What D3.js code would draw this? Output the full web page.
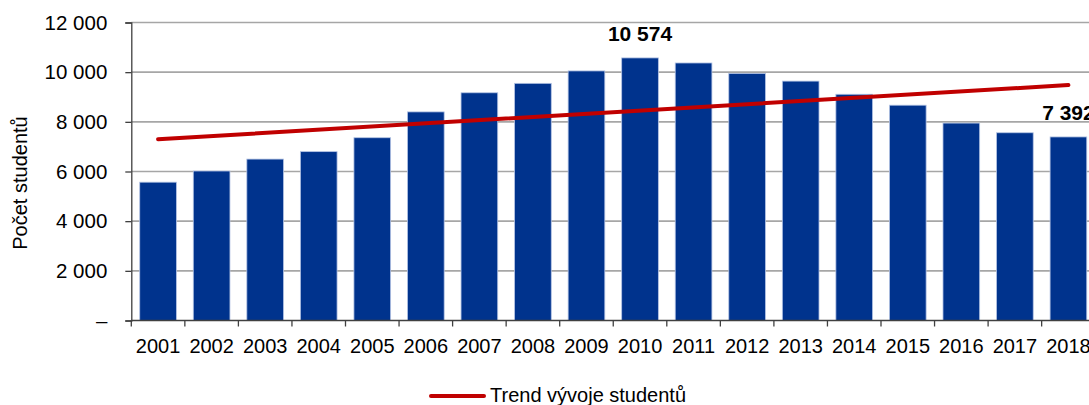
<!DOCTYPE html>
<html>
<head>
<meta charset="utf-8">
<script src="https://cdn.jsdelivr.net/npm/d3@7"></script>
<style>
  html, body { margin: 0; padding: 0; background: #ffffff; overflow: hidden; }
  svg { display: block; font-family: "Liberation Sans", Arial, sans-serif; }
</style>
</head>
<body>
<svg id="chart" width="1089" height="405"></svg>
<script>
// Počet studentů v jednotlivých letech
const years = ["2001","2002","2003","2004","2005","2006","2007","2008","2009",
               "2010","2011","2012","2013","2014","2015","2016","2017","2018"];
const students = [5570, 6020, 6500, 6800, 7360, 8400, 9170, 9550, 10050,
                  10574, 10370, 9950, 9640, 9110, 8670, 7950, 7560, 7392];

// Lineární trend – hodnoty na začátku a konci období
const trendYears = ["2001", "2018"];
const trendValues = [7300, 9480];

// Popisky vybraných sloupců
const labelledYears = ["2010", "2018"];

const yTicks = [0, 2000, 4000, 6000, 8000, 10000, 12000];
const legendLabel = "Trend vývoje studentů";
const yTitle = "Počet studentů";

const svg = d3.select("#chart");
const plot = { left: 131.3, right: 1095.2, top: 22.5, bottom: 320.5 };

const x = d3.scaleBand()
  .domain(years)
  .range([plot.left, plot.right])
  .paddingInner(0.315)
  .paddingOuter(0.1575);

const y = d3.scaleLinear()
  .domain([0, 12000])
  .range([plot.bottom, plot.top]);

const fmt = v => v === 0 ? "–" : d3.format(",")(v).replace(/,/g, "\u00a0");

// Vodorovné mřížky
svg.append("g")
  .selectAll("line")
  .data(yTicks.filter(d => d > 0))
  .join("line")
  .attr("x1", plot.left).attr("x2", 1089)
  .attr("y1", d => y(d)).attr("y2", d => y(d))
  .attr("stroke", "#a6a6a6").attr("stroke-width", 1.6);

// Sloupce
svg.append("g")
  .selectAll("rect")
  .data(years)
  .join("rect")
  .attr("x", d => x(d))
  .attr("width", x.bandwidth())
  .attr("y", (d, i) => y(students[i]))
  .attr("height", (d, i) => y(0) - y(students[i]))
  .attr("fill", "#00338d")
  .attr("stroke", "#b4c4e4")
  .attr("stroke-width", 0.8);

// Osa Y
const yAxis = d3.axisLeft(y)
  .tickValues(yTicks)
  .tickFormat(fmt)
  .tickSize(6)
  .tickPadding(18);
const gy = svg.append("g")
  .attr("transform", `translate(${plot.left},0)`)
  .call(yAxis);
gy.select(".domain").attr("stroke", "#404040").attr("stroke-width", 1.3);
gy.selectAll(".tick line").attr("stroke", "#404040").attr("stroke-width", 1.3);
gy.selectAll(".tick text")
  .attr("fill", "#000").attr("font-size", 20.5)
  .attr("font-family", "Liberation Sans, Arial, sans-serif");

// Osa X – značky na hranicích kategorií
const step = x.step();
const gx = svg.append("g");
gx.append("line")
  .attr("x1", plot.left).attr("x2", 1089)
  .attr("y1", plot.bottom).attr("y2", plot.bottom)
  .attr("stroke", "#404040").attr("stroke-width", 1.3);
gx.selectAll("line.tick")
  .data(d3.range(years.length + 1))
  .join("line")
  .attr("class", "tick")
  .attr("x1", i => plot.left + i * step).attr("x2", i => plot.left + i * step)
  .attr("y1", plot.bottom).attr("y2", plot.bottom + 6)
  .attr("stroke", "#404040").attr("stroke-width", 1.3);
gx.selectAll("text")
  .data(years)
  .join("text")
  .attr("x", d => x(d) + x.bandwidth() / 2)
  .attr("y", 353)
  .attr("text-anchor", "middle")
  .attr("font-size", 20)
  .attr("fill", "#000")
  .text(d => d);

// Trendová přímka
const trendLine = d3.line()
  .x(d => x(d[0]) + x.bandwidth() / 2)
  .y(d => y(d[1]));
svg.append("path")
  .datum(trendYears.map((yr, i) => [yr, trendValues[i]]))
  .attr("d", trendLine)
  .attr("fill", "none")
  .attr("stroke", "#c00000")
  .attr("stroke-width", 4)
  .attr("stroke-linecap", "round");

// Hodnoty nad vybranými sloupci
svg.append("g")
  .selectAll("text")
  .data(labelledYears)
  .join("text")
  .attr("x", d => x(d) + x.bandwidth() / 2)
  .attr("y", d => y(students[years.indexOf(d)]) - 17)
  .attr("text-anchor", "middle")
  .attr("font-size", 21)
  .attr("font-weight", "bold")
  .attr("fill", "#000")
  .text(d => fmt(students[years.indexOf(d)]));

// Název osy Y
svg.append("text")
  .attr("transform", "translate(27,183) rotate(-90)")
  .attr("text-anchor", "middle")
  .attr("font-size", 20)
  .attr("fill", "#000")
  .text(yTitle);

// Legenda
const legend = svg.append("g");
legend.append("line")
  .attr("x1", 431).attr("x2", 484)
  .attr("y1", 396).attr("y2", 396)
  .attr("stroke", "#c00000").attr("stroke-width", 4)
  .attr("stroke-linecap", "round");
legend.append("text")
  .attr("x", 490).attr("y", 402)
  .attr("font-size", 20)
  .attr("fill", "#000")
  .text(legendLabel);
</script>
</body>
</html>
